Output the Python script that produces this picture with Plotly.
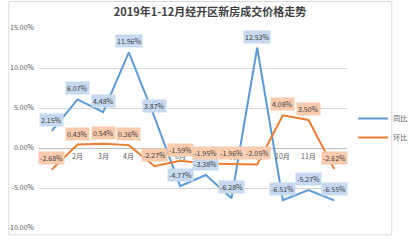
import plotly.graph_objects as go

months = ["1月", "2月", "3月", "4月", "5月", "6月", "7月", "8月", "9月", "10月", "11月", "12月"]
yoy = [2.15, 6.07, 4.48, 11.96, 3.87, -4.77, -3.38, -6.28, 12.53, -6.51, -5.27, -6.55]
mom = [-2.68, 0.43, 0.54, 0.36, -2.27, -1.59, -1.95, -1.96, -2.05, 4.08, 3.50, -2.62]
y_ticks = [15, 10, 5, 0, -5, -10]
title = "2019年1-12月经开区新房成交价格走势"

BLUE = "#5b9bd5"
ORANGE = "#ed7d31"
FONT = "Noto Sans CJK SC"

x = list(range(len(months)))

fig = go.Figure()
fig.add_trace(go.Scatter(x=x, y=yoy, mode="lines", name="同比",
                         line=dict(color=BLUE, width=2)))
fig.add_trace(go.Scatter(x=x, y=mom, mode="lines", name="环比",
                         line=dict(color=ORANGE, width=2)))

annotations = []
for i, m in enumerate(months):
    annotations.append(dict(x=i, y=0, xref="x", yref="y", text=m,
                            showarrow=False, yshift=-8,
                            font=dict(size=7, color="#595959", family=FONT)))
for i, v in enumerate(yoy):
    annotations.append(dict(x=i, y=v, xref="x", yref="y", text=f"{v:.2f}%",
                            showarrow=False, yshift=11, bgcolor="#c6d9f0",
                            font=dict(size=7, color="#404040", family=FONT),
                            borderpad=1))
for i, v in enumerate(mom):
    annotations.append(dict(x=i, y=v, xref="x", yref="y", text=f"{v:.2f}%",
                            showarrow=False, yshift=11, bgcolor="#f8cbad",
                            font=dict(size=7, color="#404040", family=FONT),
                            borderpad=1))

fig.update_layout(
    width=420, height=240,
    margin=dict(l=33, r=50, t=28, b=8),
    paper_bgcolor="white", plot_bgcolor="white",
    font=dict(family=FONT, size=7, color="#595959"),
    title=dict(text=f"<b>{title}</b>", x=0.5, xanchor="center", y=0.95, yanchor="middle",
               font=dict(size=11, color="#404040", family=FONT)),
    xaxis=dict(range=[-0.5, 11.5], showticklabels=False, showgrid=False,
               zeroline=False, showline=False, fixedrange=True),
    yaxis=dict(range=[-10, 15], tickvals=y_ticks,
               ticktext=[f"{v:.2f}%" for v in y_ticks],
               showgrid=True, gridcolor="#d9d9d9", gridwidth=1,
               zeroline=True, zerolinecolor="#bfbfbf", zerolinewidth=1,
               tickfont=dict(size=7, color="#595959"), ticklabelstandoff=4),
    legend=dict(x=1.02, y=0.62, xanchor="left", yanchor="top",
                font=dict(size=7, color="#595959"), itemwidth=30,
                tracegroupgap=0, bgcolor="rgba(0,0,0,0)"),
    annotations=annotations,
    shapes=[dict(type="rect", xref="paper", yref="paper",
                 x0=-33/337, x1=1 + 49/337, y0=-7/204, y1=1 + 27/204,
                 line=dict(color="#d9d9d9", width=1), fillcolor="rgba(0,0,0,0)")],
)

fig.write_html("out.html")
